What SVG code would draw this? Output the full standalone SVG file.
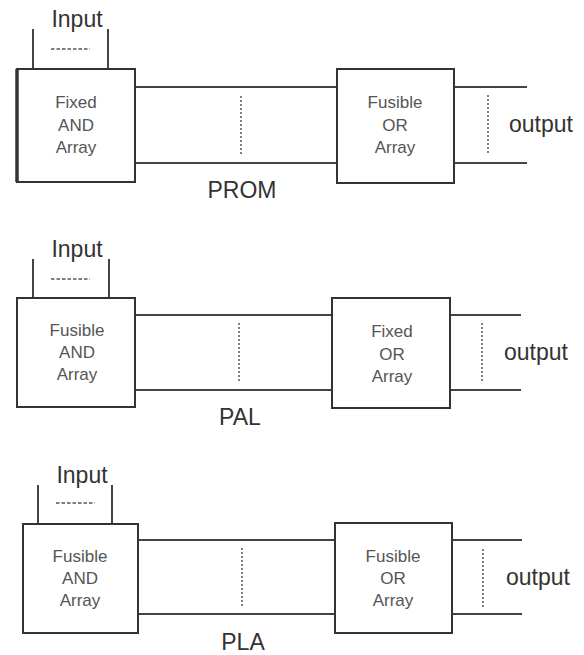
<svg xmlns="http://www.w3.org/2000/svg" width="584" height="655" viewBox="0 0 584 655">
<style>
.box{fill:#fff;stroke:#333;stroke-width:2}
.ln{stroke:#444;stroke-width:2;fill:none}
.dot{stroke:#555;stroke-width:1.5;stroke-dasharray:2 2;fill:none}
.dash{stroke:#555;stroke-width:1.5;stroke-dasharray:3.5 2;fill:none}
.lbl{font-family:"Liberation Sans",Arial,sans-serif;font-size:23px;fill:#333}
.bt{font-family:"Liberation Sans",Arial,sans-serif;font-size:17px;fill:#555;text-anchor:middle}
.mid{text-anchor:middle}
</style>
<rect width="584" height="655" fill="#fff"/>
<g id="connectors">
  <!-- PROM -->
  <line class="ln" x1="33" y1="29" x2="33" y2="69"/>
  <line class="ln" x1="108" y1="29" x2="108" y2="69"/>
  <line class="dash" x1="51" y1="49" x2="90" y2="49"/>
  <line class="ln" x1="135" y1="87" x2="337" y2="87"/>
  <line class="ln" x1="135" y1="163" x2="337" y2="163"/>
  <line class="dot" x1="241" y1="96" x2="241" y2="155"/>
  <line class="ln" x1="454" y1="87" x2="527" y2="87"/>
  <line class="ln" x1="454" y1="163" x2="527" y2="163"/>
  <line class="dot" x1="488" y1="95" x2="488" y2="155"/>
  <!-- PAL -->
  <line class="ln" x1="33" y1="259" x2="33" y2="298"/>
  <line class="ln" x1="109" y1="259" x2="109" y2="298"/>
  <line class="dash" x1="51" y1="279" x2="90" y2="279"/>
  <line class="ln" x1="135" y1="315" x2="332" y2="315"/>
  <line class="ln" x1="135" y1="390" x2="332" y2="390"/>
  <line class="dot" x1="239" y1="323" x2="239" y2="382"/>
  <line class="ln" x1="450" y1="315" x2="521" y2="315"/>
  <line class="ln" x1="450" y1="390" x2="521" y2="390"/>
  <line class="dot" x1="482" y1="323" x2="482" y2="381"/>
  <!-- PLA -->
  <line class="ln" x1="38" y1="485" x2="38" y2="524"/>
  <line class="ln" x1="112" y1="485" x2="112" y2="524"/>
  <line class="dash" x1="56" y1="503" x2="95" y2="503"/>
  <line class="ln" x1="138" y1="540" x2="335" y2="540"/>
  <line class="ln" x1="138" y1="614" x2="335" y2="614"/>
  <line class="dot" x1="242" y1="548" x2="242" y2="607"/>
  <line class="ln" x1="452" y1="540" x2="522" y2="540"/>
  <line class="ln" x1="452" y1="614" x2="522" y2="614"/>
  <line class="dot" x1="483" y1="549" x2="483" y2="607"/>
</g>
<g id="prom-and">
  <rect class="box" x="17" y="69" width="118" height="113"/>
  <line x1="17" y1="69" x2="17" y2="182" stroke="#333" stroke-width="3.5"/>
  <text class="bt" x="76" y="108">Fixed</text>
  <text class="bt" x="76" y="131">AND</text>
  <text class="bt" x="76" y="153">Array</text>
</g>
<g id="prom-input"><text class="lbl mid" x="77" y="27">Input</text></g>
<g id="prom-or">
  <rect class="box" x="337" y="69" width="117" height="114"/>
  <text class="bt" x="395" y="108">Fusible</text>
  <text class="bt" x="395" y="131">OR</text>
  <text class="bt" x="395" y="153">Array</text>
</g>
<g id="prom-output"><text class="lbl" x="509" y="132">output</text></g>
<g id="prom-label"><text class="lbl mid" x="242" y="198">PROM</text></g>

<g id="pal-and">
  <rect class="box" x="17" y="298" width="118" height="109"/>
  <text class="bt" x="77" y="336">Fusible</text>
  <text class="bt" x="77" y="358">AND</text>
  <text class="bt" x="77" y="380">Array</text>
</g>
<g id="pal-input"><text class="lbl mid" x="77" y="257">Input</text></g>
<g id="pal-or">
  <rect class="box" x="332" y="298" width="118" height="110"/>
  <text class="bt" x="392" y="337">Fixed</text>
  <text class="bt" x="392" y="360">OR</text>
  <text class="bt" x="392" y="382">Array</text>
</g>
<g id="pal-output"><text class="lbl" x="504" y="360">output</text></g>
<g id="pal-label"><text class="lbl mid" x="240" y="425">PAL</text></g>

<g id="pla-and">
  <rect class="box" x="23" y="524" width="115" height="109"/>
  <text class="bt" x="80" y="562">Fusible</text>
  <text class="bt" x="80" y="584">AND</text>
  <text class="bt" x="80" y="606">Array</text>
</g>
<g id="pla-input"><text class="lbl mid" x="82" y="483">Input</text></g>
<g id="pla-or">
  <rect class="box" x="335" y="523" width="117" height="110"/>
  <text class="bt" x="393" y="562">Fusible</text>
  <text class="bt" x="393" y="584">OR</text>
  <text class="bt" x="393" y="606">Array</text>
</g>
<g id="pla-output"><text class="lbl" x="506" y="585">output</text></g>
<g id="pla-label"><text class="lbl mid" x="243" y="650">PLA</text></g>
</svg>
